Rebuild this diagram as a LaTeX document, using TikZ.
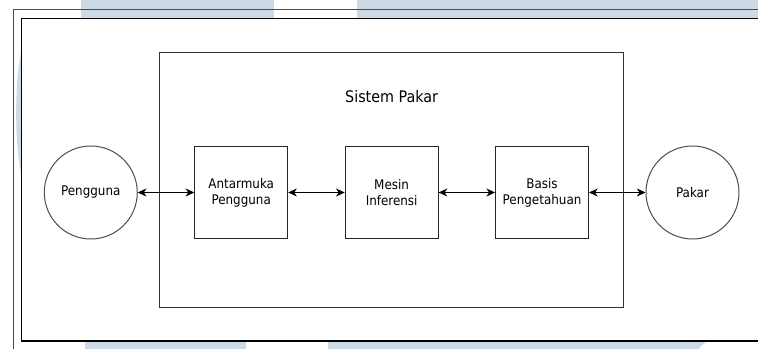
\documentclass[tikz,border=0pt]{standalone}
\usepackage{fontspec}
\setmainfont{DejaVu Sans Condensed}
\usetikzlibrary{arrows.meta}
\definecolor{watermark}{HTML}{CDD9E4}
\begin{document}
\begin{tikzpicture}[aktor/.style={circle, draw=black!70, line width=0.75pt, minimum size=2.46cm, inner sep=0pt, font=\fontsize{10}{12}\selectfont},komponen/.style={rectangle, draw=black!85, line width=0.75pt, minimum width=2.46cm, minimum height=2.43cm, align=center, font=\fontsize{10}{12}\selectfont},sistem/.style={rectangle, draw=black!80, line width=0.75pt, minimum width=12.28cm, minimum height=6.75cm},>={Stealth[length=6.5pt,width=6pt,inset=2pt]}]
            \useasboundingbox (-2.402,-4.141) rectangle (17.653,5.093);
            % page background
            \fill[watermark] (-0.259,4.604) rectangle (4.847,5.093);
            \fill[watermark] (7.043,4.604) rectangle (17.653,5.093);
            \fill[watermark] (-0.153,-4.141) rectangle (4.106,-3.955);
            \fill[watermark] (6.276,-4.141) -- (6.276,-3.955) -- (16.277,-3.955) -- (16.065,-4.141) -- cycle;
            \fill[watermark] (-1.834,3.770) .. controls (-2.02,2.9) and (-2.02,1.3) .. (-1.834,0.463) -- cycle;
            \draw[black!70, line width=0.75pt] (-2.058,-4.141) -- (-2.058,4.842) -- (17.653,4.842);
            \draw[black, line width=0.9pt] (17.653,4.604) -- (-1.834,4.604) -- (-1.834,-3.929) -- (17.653,-3.929);
            % diagram
            \node[aktor] (pengguna) {Pengguna};
            \node[komponen, right of=pengguna, xshift=2.98cm] (antarmuka) {Antarmuka\\Pengguna};
            \node[komponen, right of=antarmuka, xshift=2.98cm] (mesin) {Mesin\\Inferensi};
            \node[komponen, right of=mesin, xshift=2.98cm] (basis) {Basis\\Pengetahuan};
            \node[aktor, right of=basis, xshift=2.98cm] (pakar) {Pakar};
            \node[sistem, above of=mesin, yshift=-0.68cm] (sistem) {};
            \node[above of=mesin, yshift=1.55cm, font=\fontsize{12}{14}\selectfont] (judul) {Sistem Pakar};
            \draw[<->, line width=0.75pt] (pengguna) -- (antarmuka);
            \draw[<->, line width=0.75pt] (antarmuka) -- (mesin);
            \draw[<->, line width=0.75pt] (mesin) -- (basis);
            \draw[<->, line width=0.75pt] (basis) -- (pakar);
        \end{tikzpicture}
\end{document}
